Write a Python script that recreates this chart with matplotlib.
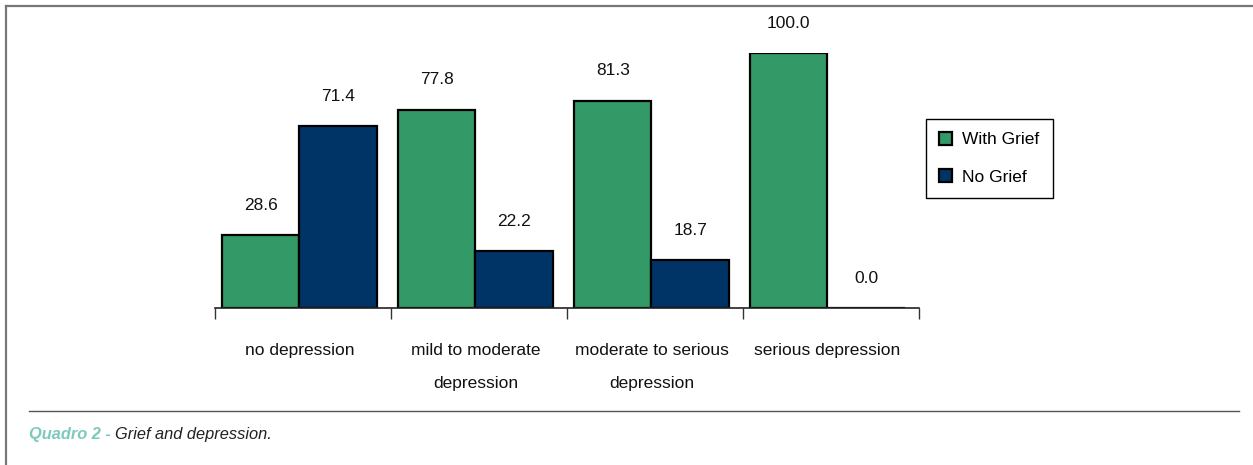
import matplotlib
matplotlib.use("Agg")
import matplotlib.pyplot as plt
import numpy as np
from matplotlib.lines import Line2D

categories = ["no depression", "mild to moderate\ndepression",
              "moderate to serious\ndepression", "serious depression"]
with_grief = [28.6, 77.8, 81.3, 100.0]
no_grief = [71.4, 22.2, 18.7, 0.0]
series_names = ["With Grief", "No Grief"]

green = "#339966"
navy = "#003366"

plt.rcParams["font.family"] = ["Liberation Sans", "DejaVu Sans"]

fig = plt.figure(figsize=(12.53, 4.65), dpi=100)
ax = fig.add_axes([215 / 1253, 157 / 465, 704 / 1253, 255 / 465])

x = np.arange(len(categories)) + 0.5
w = 0.44
bars1 = ax.bar(x - w / 2 - 0.02, with_grief, w, color=green, edgecolor="black",
               linewidth=1.6, label=series_names[0])
bars2 = ax.bar(x + w / 2 - 0.02, no_grief, w, color=navy, edgecolor="black",
               linewidth=1.6, label=series_names[1])

# value labels over each bar
for bars, vals in ((bars1, with_grief), (bars2, no_grief)):
    for b, v in zip(bars, vals):
        ax.annotate(f"{v:.1f}", (b.get_x() + b.get_width() / 2, v),
                    xytext=(0, 21.5), textcoords="offset points",
                    ha="center", va="center", fontsize=12.5, color="#111111",
                    annotation_clip=False)

ax.set_xlim(0, len(categories))
ax.set_ylim(0, 100)
ax.set_xticks(np.arange(len(categories) + 1))
ax.set_xticklabels([])
ax.tick_params(axis="x", length=8, width=1, color="#333333", direction="out")
ax.set_yticks([])
for s in ("top", "right", "left"):
    ax.spines[s].set_visible(False)
ax.spines["bottom"].set_color("#222222")
ax.spines["bottom"].set_linewidth(1.2)

# category names under the axis
for xi, name in zip(x, categories):
    ax.text(xi - 0.02, -13.8, name, ha="center", va="top", fontsize=12.5,
            color="#111111", linespacing=2.45, transform=ax.transData,
            clip_on=False)

fig.legend(handles=[bars1, bars2], labels=series_names,
           loc="upper left", bbox_to_anchor=(926 / 1253, 1 - 119 / 465),
           borderaxespad=0, fontsize=12.5, handlelength=0.75,
           handleheight=0.75, handletextpad=0.6, labelspacing=1.25,
           borderpad=0.75, fancybox=False, edgecolor="black",
           framealpha=1)
leg = fig.legends[0]
leg.get_frame().set_linewidth(1.0)

# page frame and separator rule
fig.add_artist(Line2D([6 / 1253, 1], [1 - 6 / 465] * 2, color="#777777",
                      linewidth=1.6, transform=fig.transFigure))
fig.add_artist(Line2D([6 / 1253] * 2, [0, 1 - 6 / 465], color="#777777",
                      linewidth=1.6, transform=fig.transFigure))
fig.add_artist(Line2D([29 / 1253, 1239 / 1253], [1 - 411 / 465] * 2,
                      color="#555555", linewidth=1.0,
                      transform=fig.transFigure))

# caption
t1 = fig.text(29 / 1253, 1 - 435 / 465, "Quadro 2 - ", fontsize=11.8,
              fontweight="bold", fontstyle="italic", color="#7cc9bd",
              va="center", ha="left")
fig.canvas.draw()
bb = t1.get_window_extent()
fig.text(bb.x1 / fig.bbox.width, 1 - 435 / 465, "Grief and depression.",
         fontsize=11.8, fontstyle="italic", color="#222222",
         va="center", ha="left")

fig.savefig("out.png", dpi=100, facecolor="white")
